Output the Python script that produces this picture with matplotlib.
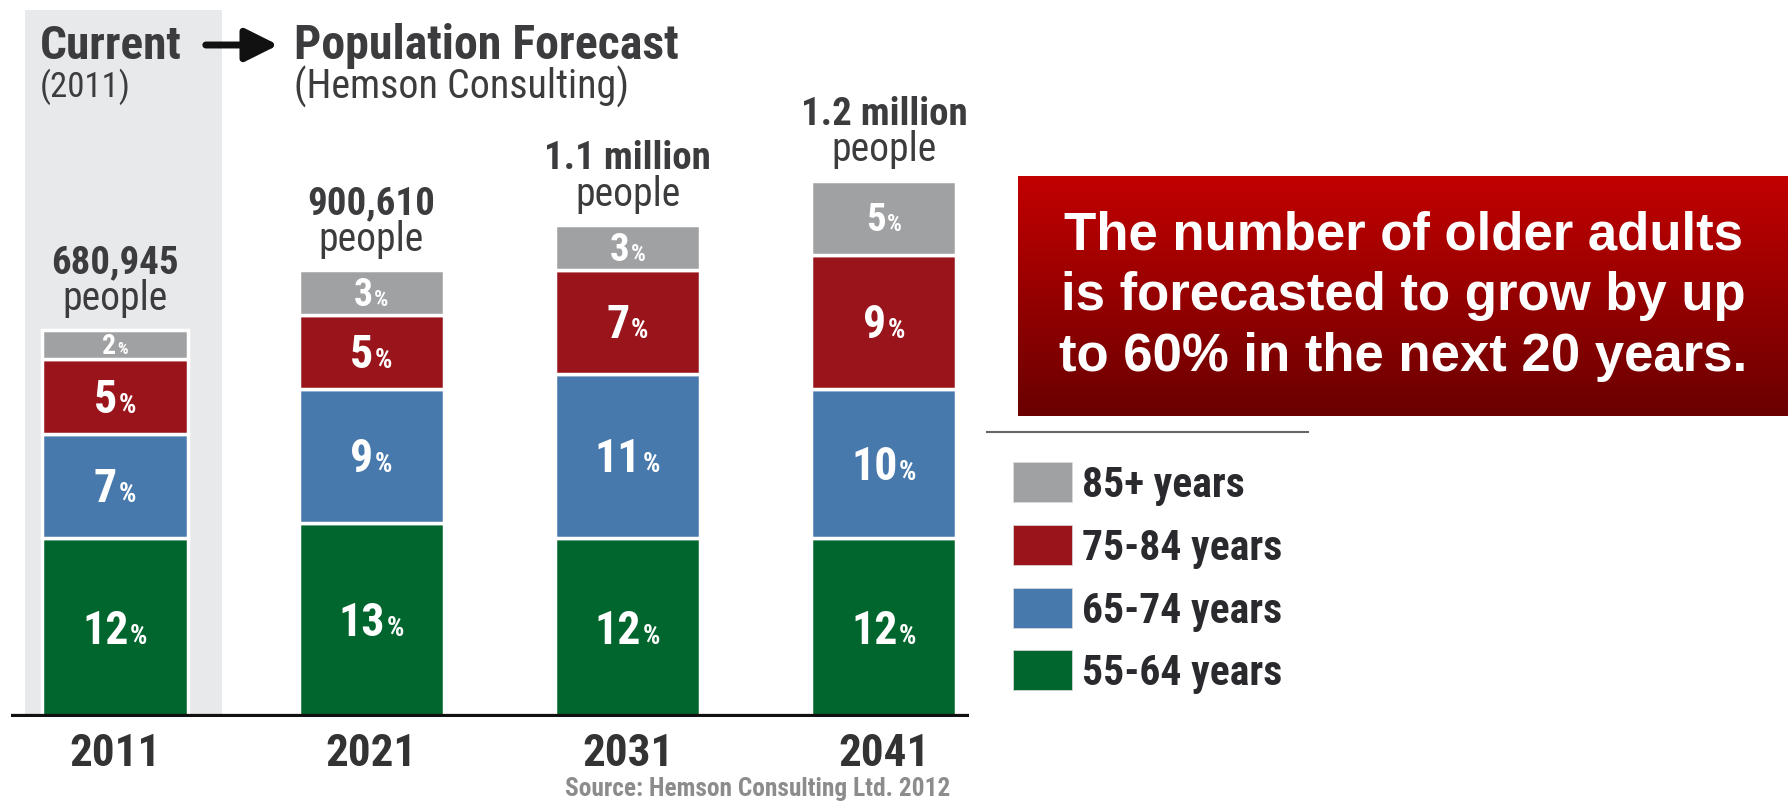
import numpy as np
import matplotlib
matplotlib.use("Agg")
import matplotlib.pyplot as plt
from matplotlib.patches import Patch, FancyArrowPatch
from matplotlib.lines import Line2D
from matplotlib.colors import LinearSegmentedColormap
from matplotlib.offsetbox import TextArea, HPacker, AnnotationBbox

# data
years = ["2011", "2021", "2031", "2041"]
age_groups = ["55-64 years", "65-74 years", "75-84 years", "85+ years"]
share_55_64 = [12, 13, 12, 12]
share_65_74 = [7, 9, 11, 10]
share_75_84 = [5, 5, 7, 9]
share_85_up = [2, 3, 3, 5]
totals_top = ["680,945", "900,610", "1.1 million", "1.2 million"]
totals_bottom = ["people", "people", "people", "people"]

colors = ["#00662E", "#4879AC", "#9A141C", "#A0A1A3"]
dark = "#3C3C3E"
narrow = ["Roboto Condensed", "DejaVu Sans"]
arial = ["Liberation Sans", "DejaVu Sans"]

W, H = 1788, 803
def fx(px):
    return px / W
def fy(py):
    return 1 - py / H

fig = plt.figure(figsize=(W / 100, H / 100), dpi=100)
fig.patch.set_facecolor("white")

# bar axes, baseline at y=718 px
ax = fig.add_axes([fx(11), fy(718), 958 / W, 707 / H])
ax.set_xlim(-104 / 256.3, 854 / 256.3)
ax.set_ylim(0, 707 / 14.9)
ax.axis("off")

# "current" panel
ax.axvspan(-0.351, 0.417, color="#E8E9EB", zorder=0, lw=0)

x = np.arange(len(years))
series = [share_55_64, share_65_74, share_75_84, share_85_up]
bottom = np.zeros(len(years))
for vals, col, lab in zip(series, colors, age_groups):
    ax.bar(x, vals, width=0.566, bottom=bottom, color=col,
           edgecolor="white", linewidth=2.5, label=lab, zorder=2)
    bottom += np.array(vals)

ax.axhline(0, color="#111111", lw=4.5, zorder=3)

# segment labels: big number + small percent sign
gray_sizes = [20, 27, 28, 28]
for si, vals in enumerate(series):
    base = np.sum(series[:si], axis=0) if si > 0 else np.zeros(len(years))
    for i, v in enumerate(vals):
        big = gray_sizes[i] if si == 3 else 33
        num = TextArea(str(v), textprops=dict(color="white", fontsize=big,
                                              fontweight="bold", family=narrow))
        pct = TextArea("%", textprops=dict(color="white", fontsize=big * 0.6,
                                           fontweight="bold", family=narrow))
        box = HPacker(children=[num, pct], align="baseline", pad=0, sep=1)
        ab = AnnotationBbox(box, (x[i], base[i] + v / 2), frameon=False,
                            box_alignment=(0.5, 0.55), zorder=4)
        ax.add_artist(ab)

# totals above bars, years below
for i in range(len(years)):
    ax.annotate(totals_top[i], (x[i], bottom[i]), xytext=(0, 41),
                textcoords="offset points", ha="center", va="baseline",
                fontsize=28, fontweight="bold", color=dark, family=narrow)
    ax.annotate(totals_bottom[i], (x[i], bottom[i]), xytext=(0, 14.5),
                textcoords="offset points", ha="center", va="baseline",
                fontsize=28.5, color=dark, family=narrow)
    ax.annotate(years[i], (x[i], 0), xytext=(0, -26),
                textcoords="offset points", ha="center", va="center",
                fontsize=32.5, fontweight="bold", color="#333333", family=narrow)

# header
fig.text(fx(40), fy(46), "Current", fontsize=34, fontweight="bold",
         color=dark, va="center", ha="left", family=narrow)
fig.text(fx(40), fy(87), "(2011)", fontsize=25, color=dark,
         va="center", ha="left", family=narrow)
fig.text(fx(294), fy(46), "Population Forecast", fontsize=34.5, fontweight="bold",
         color=dark, va="center", ha="left", family=narrow)
fig.text(fx(294), fy(87), "(Hemson Consulting)", fontsize=28.8, color=dark,
         va="center", ha="left", family=narrow)
fig.add_artist(FancyArrowPatch((fx(203), fy(46)), (fx(281), fy(46)),
                               transform=fig.transFigure,
                               arrowstyle="-|>,head_length=0.9,head_width=0.45",
                               mutation_scale=22, lw=5, color="#111111"))

fig.text(fx(950), fy(789), "Source: Hemson Consulting Ltd. 2012", fontsize=18.3,
         fontweight="bold", color="#8C8C8C", ha="right", va="center", family=narrow)

# red call-out box with vertical gradient
gax = fig.add_axes([fx(1018), fy(417), 770 / W, 240 / H])
cmap = LinearSegmentedColormap.from_list("redgrad", ["#6A0000", "#C20000"])
grad = np.linspace(0, 1, 256).reshape(-1, 1)
gax.imshow(grad, aspect="auto", cmap=cmap, origin="lower", extent=[0, 1, 0, 1])
gax.set_xlim(0, 1)
gax.set_ylim(0, 1)
gax.axis("off")
callout = ["The number of older adults", "is forecasted to grow by up",
           "to 60% in the next 20 years."]
for k, line in enumerate(callout):
    gax.text(0.5, (417 - (236 + 60.5 * k)) / 240, line, ha="center", va="center",
             fontsize=38, fontweight="bold", color="white", family=arial)

# legend
fig.add_artist(Line2D([fx(987), fx(1308)], [fy(433), fy(433)],
                      color="#666666", lw=1.5))
handles = [Patch(facecolor=c, edgecolor="#dddddd", lw=0.5) for c in colors][::-1]
fig.legend(handles, age_groups[::-1], loc="upper left",
           bbox_to_anchor=(fx(1013), fy(463)), frameon=False,
           prop=dict(family=narrow, weight="bold", size=30),
           handlelength=1.42, handleheight=1.1, handletextpad=0.24,
           labelspacing=0.47, labelcolor="#2A2A2E", borderpad=0,
           borderaxespad=0)

fig.savefig("out.png", dpi=100)
